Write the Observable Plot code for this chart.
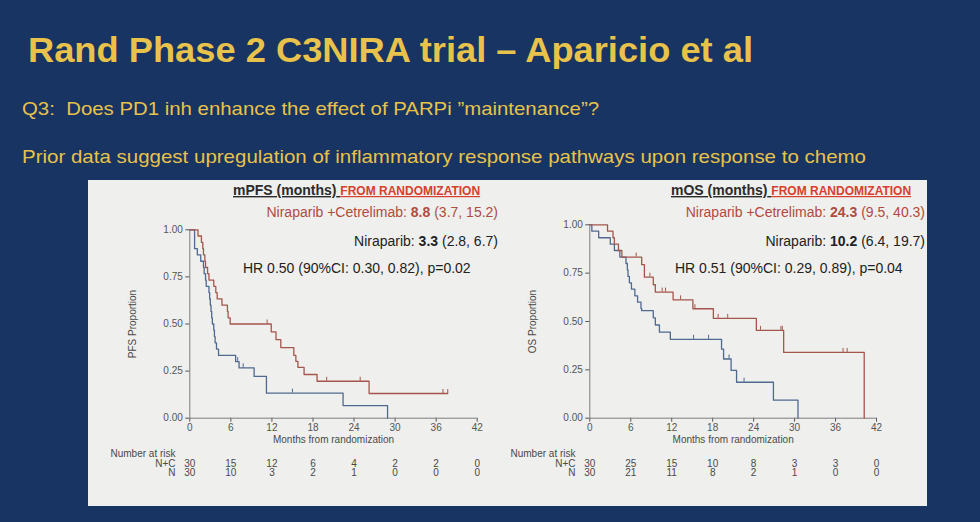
<!DOCTYPE html>
<html>
<head>
<meta charset="utf-8">
<script src="https://cdn.jsdelivr.net/npm/d3@7"></script>
<script src="https://cdn.jsdelivr.net/npm/@observablehq/plot@0.6"></script>
<style>
  html, body { margin: 0; padding: 0; }
  body {
    width: 980px; height: 522px; overflow: hidden; position: relative;
    background: #173462;
    font-family: "Liberation Sans", Arial, sans-serif;
  }
  #panel { position: absolute; left: 88px; top: 180px; width: 839px; height: 326px; background: #efefed; }
  #pfs { position: absolute; left: 0; top: 0; }
  #os { position: absolute; left: 420px; top: 0; }
  #overlay { position: absolute; left: 0; top: 0; pointer-events: none; }
  svg text { white-space: pre; }
</style>
</head>
<body>
<div id="panel"><div id="pfs"></div><div id="os"></div></div>
<svg id="overlay" width="980" height="522"></svg>
<script>
// ---- Slide text ----
const slideTitle = "Rand Phase 2 C3NIRA trial – Aparicio et al";
const slideLines = [
  "Q3:  Does PD1 inh enhance the effect of PARPi ”maintenance”?",
  "Prior data suggest upregulation of inflammatory response pathways upon response to chemo"
];

// ---- Shared axis ticks ----
const monthTicks = [0, 6, 12, 18, 24, 30, 36, 42];
const proportionTicks = [0, 0.25, 0.5, 0.75, 1];
const riskRowLabels = ["N+C", "N"];
const armNames = ["Niraparib +Cetrelimab", "Niraparib"];

// ---- Progression-free survival (Kaplan–Meier steps) ----
const pfsComboTime = [0, 1.2, 1.7, 1.9, 2.0, 2.2, 2.3, 2.6, 2.8, 3.5, 3.8, 4.0, 4.7, 5.5, 5.6, 5.9, 11.9, 12.6, 13.3, 15.2, 15.5, 15.8, 16.7, 18.6, 26.2, 37.7];
const pfsComboSurv = [1, 0.967, 0.933, 0.9, 0.867, 0.833, 0.8, 0.767, 0.733, 0.7, 0.667, 0.633, 0.6, 0.567, 0.533, 0.5, 0.458, 0.417, 0.375, 0.333, 0.302, 0.27, 0.232, 0.196, 0.131, 0.131];
const pfsComboCensor = [11.3, 20.0, 24.9, 37.0, 37.7];
const pfsMonoTime = [0, 0.7, 1.1, 1.6, 2.0, 2.1, 2.3, 2.4, 2.8, 2.9, 3.0, 3.1, 3.2, 3.3, 3.5, 3.6, 3.7, 3.9, 4.2, 6.7, 7.2, 9.4, 11.2, 22.4, 28.9];
const pfsMonoSurv = [1, 0.9, 0.867, 0.833, 0.8, 0.767, 0.733, 0.7, 0.667, 0.633, 0.6, 0.567, 0.533, 0.5, 0.467, 0.433, 0.4, 0.367, 0.333, 0.3, 0.267, 0.222, 0.133, 0.067, 0];
const pfsMonoCensor = [7.0, 7.8, 15.0];
const pfsRiskCombo = [30, 15, 12, 6, 4, 2, 2, 0];
const pfsRiskMono = [30, 10, 3, 2, 1, 0, 0, 0];
const pfsMedian = ["8.8", "3.3"];
const pfsCI = ["(3.7, 15.2)", "(2.8, 6.7)"];
const pfsHR = "HR 0.50 (90%CI: 0.30, 0.82), p=0.02";

// ---- Overall survival (Kaplan–Meier steps) ----
const osComboTime = [0, 2.6, 3.4, 3.6, 4.2, 4.7, 7.6, 8.0, 9.3, 9.6, 12.2, 15.1, 18.1, 24.4, 28.4, 40.2];
const osComboSurv = [1, 0.967, 0.933, 0.9, 0.867, 0.833, 0.794, 0.729, 0.69, 0.652, 0.612, 0.566, 0.516, 0.454, 0.34, 0];
const osComboCensor = [6.8, 8.8, 10.6, 11.1, 13.3, 15.4, 18.8, 20.2, 25.0, 28.0, 28.2, 37.1, 37.7];
const osMonoTime = [0, 0.3, 1.3, 3.0, 3.6, 4.4, 5.3, 5.5, 5.6, 5.8, 6.1, 6.6, 7.0, 7.5, 7.6, 9.3, 9.6, 10.2, 11.8, 19.3, 19.6, 20.7, 21.5, 26.9, 30.5];
const osMonoSurv = [1, 0.967, 0.933, 0.9, 0.867, 0.833, 0.8, 0.767, 0.733, 0.7, 0.667, 0.633, 0.6, 0.567, 0.556, 0.519, 0.482, 0.445, 0.408, 0.357, 0.306, 0.247, 0.186, 0.093, 0];
const osMonoCensor = [15.2, 17.4, 20.4, 22.6];
const osRiskCombo = [30, 25, 15, 10, 8, 3, 3, 0];
const osRiskMono = [30, 21, 11, 8, 2, 1, 0, 0];
const osMedian = ["24.3", "10.2"];
const osCI = ["(9.5, 40.3)", "(6.4, 19.7)"];
const osHR = "HR 0.51 (90%CI: 0.29, 0.89), p=0.04";

// ---- Colours ----
const comboColor = "#a5564c";
const monoColor = "#50698f";
const axisColor = "#7d7d7d";
const gold = "#e8c24a";

function rows(times, surv) {
  return times.map((t, i) => ({t, s: surv[i]}));
}
// survival level in effect at time t (step function)
function levelAt(times, surv, t) {
  let s = surv[0];
  for (let i = 0; i < times.length; i++) if (times[i] <= t) s = surv[i];
  return s;
}
function censorRows(times, surv, censor) {
  return censor.map(t => ({t, s: levelAt(times, surv, t)}));
}

function kmChart(o) {
  const riskRows = monthTicks.map((m, i) => ({m, c: o.riskCombo[i], n: o.riskMono[i]}));
  const small = {fontSize: 10, fill: "#4a4a4a"};
  return Plot.plot({
    width: o.width, height: 326,
    marginLeft: o.marginLeft, marginRight: o.marginRight,
    marginTop: o.marginTop, marginBottom: 88.3,
    style: {background: "transparent", color: "#555", fontFamily: "Liberation Sans, Arial, sans-serif", fontSize: "10px", overflow: "visible"},
    x: {domain: [0, 42], ticks: monthTicks, tickSize: 4, tickPadding: 2, label: null},
    y: {domain: [0, 1], ticks: proportionTicks, tickFormat: d3.format(".2f"), tickSize: 4, tickPadding: 3, label: null},
    marks: [
      Plot.ruleY([0], {stroke: axisColor}),
      Plot.ruleX([0], {stroke: axisColor}),
      Plot.line(rows(o.monoTime, o.monoSurv), {x: "t", y: "s", curve: "step-after", stroke: monoColor, strokeWidth: 1.3}),
      Plot.line(rows(o.comboTime, o.comboSurv), {x: "t", y: "s", curve: "step-after", stroke: comboColor, strokeWidth: 1.3}),
      Plot.ruleX(censorRows(o.monoTime, o.monoSurv, o.monoCensor), {x: "t", y1: "s", y2: "s", insetTop: -4, stroke: monoColor, strokeWidth: 1}),
      Plot.ruleX(censorRows(o.comboTime, o.comboSurv, o.comboCensor), {x: "t", y1: "s", y2: "s", insetTop: -4, stroke: comboColor, strokeWidth: 1}),
      // axis titles
      Plot.text([o.yLabel], {frameAnchor: "left", textAnchor: "middle", lineAnchor: "middle", rotate: -90, dx: -56.6, ...small}),
      Plot.text(["Months from randomization"], {frameAnchor: "bottom", textAnchor: "middle", lineAnchor: "middle", dy: 21.3, ...small}),
      // number at risk table
      Plot.text(["Number at risk"], {frameAnchor: "bottom-left", textAnchor: "start", lineAnchor: "middle", dx: -79.3, dy: 35.3, ...small}),
      Plot.text([riskRowLabels[0]], {frameAnchor: "bottom-left", textAnchor: "end", lineAnchor: "middle", dx: -14.3, dy: 45.6, ...small}),
      Plot.text([riskRowLabels[1]], {frameAnchor: "bottom-left", textAnchor: "end", lineAnchor: "middle", dx: -14.3, dy: 55, ...small}),
      Plot.text(riskRows, {x: "m", text: "c", frameAnchor: "bottom", lineAnchor: "middle", dy: 45.6, ...small}),
      Plot.text(riskRows, {x: "m", text: "n", frameAnchor: "bottom", lineAnchor: "middle", dy: 55, ...small})
    ]
  });
}

document.getElementById("pfs").append(kmChart({
  width: 420, marginLeft: 101.3, marginRight: 31.3, marginTop: 49.3,
  comboTime: pfsComboTime, comboSurv: pfsComboSurv, comboCensor: pfsComboCensor,
  monoTime: pfsMonoTime, monoSurv: pfsMonoSurv, monoCensor: pfsMonoCensor,
  riskCombo: pfsRiskCombo, riskMono: pfsRiskMono, yLabel: "PFS Proportion"
}));
document.getElementById("os").append(kmChart({
  width: 419, marginLeft: 81.3, marginRight: 51, marginTop: 44.3,
  comboTime: osComboTime, comboSurv: osComboSurv, comboCensor: osComboCensor,
  monoTime: osMonoTime, monoSurv: osMonoSurv, monoCensor: osMonoCensor,
  riskCombo: osRiskCombo, riskMono: osRiskMono, yLabel: "OS Proportion"
}));

// ---- Slide headings and per-chart annotations ----
const overlay = d3.select("#overlay");
overlay.append("text").attr("x", 28).attr("y", 62).attr("fill", gold)
  .attr("font-size", 35).attr("font-weight", "bold")
  .attr("textLength", 725).attr("lengthAdjust", "spacingAndGlyphs").text(slideTitle);
[[115, 577], [163, 844]].forEach(([y, len], i) => {
  overlay.append("text").attr("x", 22).attr("y", y).attr("fill", gold)
    .attr("font-size", 19).attr("textLength", len).attr("lengthAdjust", "spacingAndGlyphs")
    .text(slideLines[i]);
});

function rich(x, y, anchor, parts) {
  const t = overlay.append("text").attr("x", x).attr("y", y).attr("text-anchor", anchor).attr("font-size", 14);
  parts.forEach(p => {
    t.append("tspan").text(p.text)
      .attr("fill", p.fill)
      .attr("font-weight", p.bold ? "bold" : null)
      .attr("font-size", p.size || null)
      .style("text-decoration", p.underline ? "underline" : null);
  });
}

function annotate(o) {
  rich(o.titleX, 195, "start", [
    {text: o.title, bold: true, fill: "#2b2b2b", underline: true},
    {text: " ", fill: "#2b2b2b", underline: true},
    {text: "FROM RANDOMIZATION", bold: true, fill: "#d6402e", size: 12, underline: true}
  ]);
  const red = "#b14b3e", dark = "#222";
  rich(o.rightX, 217, "end", [
    {text: armNames[0] + ": ", fill: red},
    {text: o.median[0], fill: red, bold: true},
    {text: " " + o.ci[0], fill: red}
  ]);
  rich(o.rightX, 246, "end", [
    {text: armNames[1] + ": ", fill: dark},
    {text: o.median[1], fill: dark, bold: true},
    {text: " " + o.ci[1], fill: dark}
  ]);
  rich(o.hrX, 273, "start", [{text: o.hr, fill: dark}]);
}
annotate({title: "mPFS (months)", titleX: 233, rightX: 498, hrX: 243, median: pfsMedian, ci: pfsCI, hr: pfsHR});
annotate({title: "mOS (months)", titleX: 671, rightX: 925, hrX: 675, median: osMedian, ci: osCI, hr: osHR});
</script>
</body>
</html>
